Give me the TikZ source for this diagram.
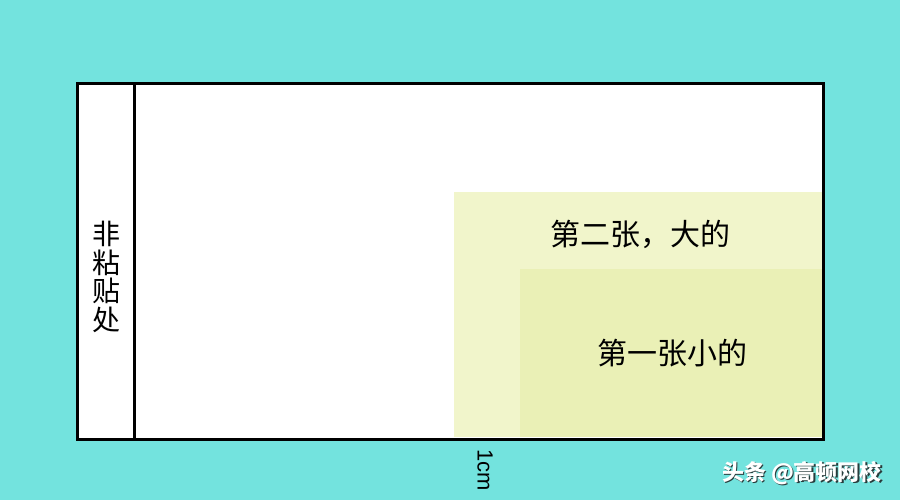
\documentclass[tikz,border=0pt]{standalone}
\usepackage{fontspec}
\setmainfont{Noto Sans CJK SC}
\newfontfamily\latinsans{Liberation Sans}

\definecolor{sheetbg}{RGB}{115,227,222}
\definecolor{bigpaper}{RGB}{241,245,203}
\definecolor{smallpaper}{RGB}{234,240,182}
\definecolor{markshadow}{RGB}{40,60,60}

\tikzset{
	papertext/.style={inner sep=0pt, font=\fontsize{30}{30}\selectfont},
	striptext/.style={inner sep=0pt, align=center, font=\fontsize{28}{28.5}\selectfont},
	frame/.style={line width=3pt},
	wmtext/.style={inner sep=0pt, font=\fontsize{22}{22}\selectfont\bfseries}
}

\begin{document}
\begin{tikzpicture}[x=1pt,y=-1pt]
	% background
	\fill [sheetbg] (0,0) rectangle (900,500);
	\useasboundingbox (0,0) rectangle (900,500);

	\fill [white] (77,84) rectangle (823,439);

	% the two papers
	\fill [bigpaper] (454,192) rectangle (822,437);
	\fill [smallpaper] (520,269) rectangle (822,437);

	\draw [frame] (77,84) rectangle (823,439);
	\draw [frame] (134,84) -- (134,439);

	\node [striptext] (strip) at (106,277) {非\\粘\\贴\\处};
	\node [papertext] (big) at (640,234) {第二张，大的};
	\node [papertext] (small) at (672,353) {第一张小的};

	\node [inner sep=0pt, rotate=-90, font=\fontsize{22}{22}\selectfont\latinsans]
		(cm) at (485,470) {1cm};

	%\node (wm) at (802,472) {};
	\node [wmtext, text=markshadow] (wmshadow) at (803.5,474.5) {头条 @高顿网校};
	\node [wmtext, text=white] (wm) at (802,473) {头条 @高顿网校};

\end{tikzpicture}
\end{document}
